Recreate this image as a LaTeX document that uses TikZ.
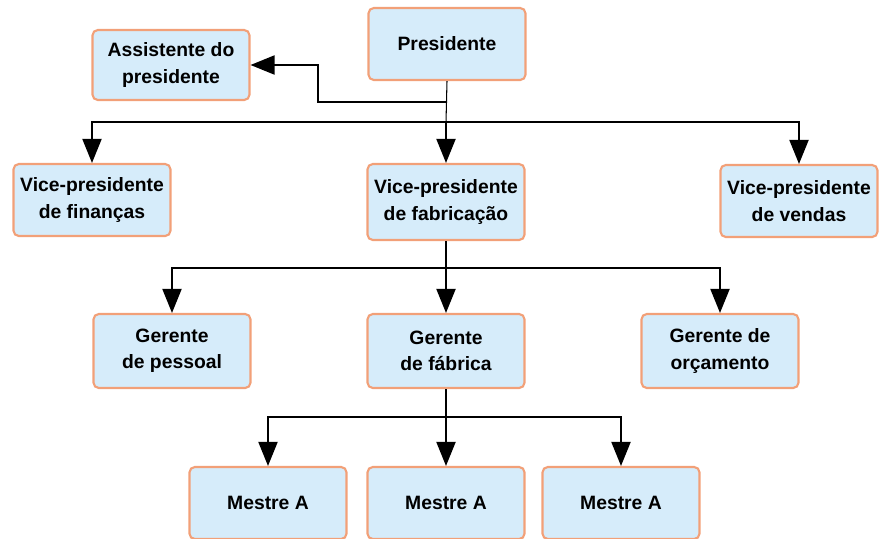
\documentclass[tikz,border=0pt]{standalone}
\usepackage{fontspec}
\setmainfont{Liberation Sans}
\usetikzlibrary{arrows.meta}
\definecolor{boxfill}{RGB}{214,236,250}
\definecolor{boxline}{RGB}{242,160,120}
\tikzset{
	orgbox/.style={draw=boxline, line width=1.2pt, fill=boxfill, rounded corners=3pt, minimum width=3.14cm, minimum height=1.44cm, align=center, font=\fontsize{11}{15}\selectfont\bfseries},
	conn/.style={-{Triangle[width=0.38cm,length=0.48cm]}, line width=1.1pt},
	trunk/.style={line width=0.6pt}
}
\begin{document}
\begin{tikzpicture}[x=0.02cm,y=-0.02cm]% boxes at pixel positions
	\useasboundingbox (0,0) rectangle (879,538);
	\node[orgbox] (pres) at (447,44) {Presidente};
	\node[orgbox, minimum height=1.40cm] (asst) at (171,65) {Assistente do\\presidente};
	\node[orgbox] (vpfin) at (92,200) {Vice-presidente\\de finanças};
	\node[orgbox, minimum height=1.52cm] (vpfab) at (446,202) {Vice-presidente\\de fabricação};
	\node[orgbox] (vpven) at (799,201) {Vice-presidente\\de vendas};
	\node[orgbox, minimum height=1.48cm] (gpes) at (172,351) {Gerente\\de pessoal};
	\node[orgbox, minimum height=1.48cm] (gfab) at (446,351) {Gerente\\de fábrica};
	\node[orgbox, minimum height=1.48cm] (gorc) at (720,351) {Gerente de\\orçamento};
	\node[orgbox] (mA) at (268,503) {Mestre A};
	\node[orgbox] (mB) at (446,503) {Mestre A};
	\node[orgbox] (mC) at (621,503) {Mestre A};
	% junctions
	\coordinate (ja) at (318,102);
	\coordinate (jp) at (446,122);
	\coordinate (jv) at (446,268);
	\coordinate (jg) at (446,417);
	\draw[trunk] (pres.south) -- (jp);
	\draw[conn] (pres.south |- ja) -- (ja) |- (asst.east);
	\draw[conn] (jp) -| (vpfin.north);
	\draw[conn] (jp) -| (vpven.north);
	\draw[conn] (jp) -- (vpfab.north);
	\draw[trunk] (vpfab.south) -- (jv);
	\draw[conn] (jv) -| (gpes.north);
	\draw[conn] (jv) -| (gorc.north);
	\draw[conn] (jv) -- (gfab.north);
	\draw[trunk] (gfab.south) -- (jg);
	\draw[conn] (jg) -| (mA.north);
	\draw[conn] (jg) -| (mC.north);
	\draw[conn] (jg) -- (mB.north);
\end{tikzpicture}
\end{document}
